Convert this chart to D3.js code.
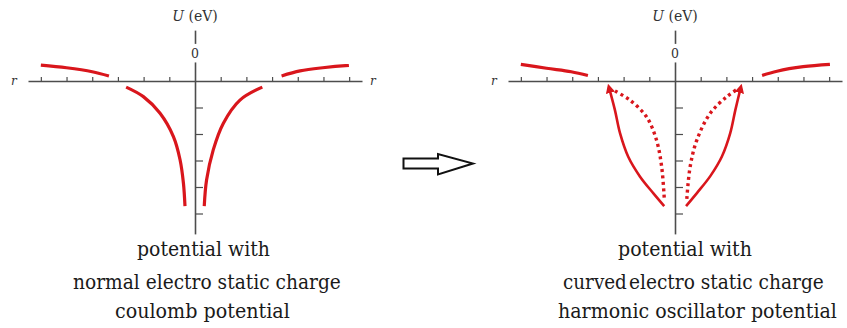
<!DOCTYPE html>
<html>
<head>
<meta charset="utf-8">
<script src="https://cdn.jsdelivr.net/npm/d3@7/dist/d3.min.js"></script>
<style>
  html, body { margin: 0; padding: 0; background: #fff; }
  svg { display: block; }
</style>
</head>
<body>
<svg id="chart" width="847" height="328"></svg>
<script>
// ---- data (r in tick units, U in eV tick units) ----
const xTicks = [-6, -5, -4, -3, -2, -1, 1, 2, 3, 4, 5, 6];
const yTicks = [-1, -2, -3, -4, -5];

// Coulomb panel
const coulombOuterLeftR  = [-6.0, -5.0, -4.0, -3.35];
const coulombOuterLeftU  = [0.60, 0.50, 0.35, 0.19];
const coulombOuterRightR = [3.37, 4.09, 4.97, 5.99];
const coulombOuterRightU = [0.19, 0.38, 0.50, 0.59];
const coulombInnerLeftR  = [-2.68, -2.01, -1.36, -0.84, -0.58, -0.45, -0.39];
const coulombInnerLeftU  = [-0.23, -0.59, -1.22, -2.10, -2.98, -3.86, -4.72];
const coulombInnerRightR = [0.36, 0.45, 0.71, 1.10, 1.75, 2.62];
const coulombInnerRightU = [-4.72, -3.74, -2.60, -1.60, -0.72, -0.23];

// Harmonic oscillator panel
const hoOuterLeftR  = [-6.0, -5.0, -4.04, -3.39];
const hoOuterLeftU  = [0.63, 0.48, 0.35, 0.21];
const hoOuterRightR = [3.39, 3.97, 4.99, 6.03];
const hoOuterRightU = [0.21, 0.37, 0.54, 0.63];
// solid branches run from the well bottom up to the arrow tip
const hoSolidLeftR  = [-0.42, -0.84, -1.36, -1.82, -2.14, -2.34, -2.57];
const hoSolidLeftU  = [-4.72, -4.24, -3.61, -2.86, -1.97, -1.09, -0.24];
const hoSolidRightR = [0.43, 0.86, 1.38, 1.83, 2.15, 2.35, 2.56];
const hoSolidRightU = [-4.72, -4.22, -3.58, -2.84, -1.97, -1.09, -0.24];
const hoDotLeftR  = [-0.42, -0.52, -0.72, -1.11, -1.76, -2.41];
const hoDotLeftU  = [-4.40, -3.23, -2.23, -1.35, -0.72, -0.34];
const hoDotRightR = [0.46, 0.59, 0.85, 1.37, 2.02, 2.47];
const hoDotRightU = [-4.45, -3.23, -2.23, -1.22, -0.59, -0.28];

const captionsLeft  = ["potential with", "normal electro static charge", "coulomb potential"];
const captionsRight = ["potential with", ["curved", "electro static charge"], "harmonic oscillator potential"];

// ---- drawing ----
const svg = d3.select("#chart");
const RED = "#d9161c";
const AXIS = "#4d4d4d";

svg.append("defs").append("marker")
  .attr("id", "tip")
  .attr("viewBox", "0 0 10 10")
  .attr("refX", 6).attr("refY", 5)
  .attr("markerWidth", 3.6).attr("markerHeight", 3.6)
  .attr("orient", "auto")
  .append("path")
  .attr("d", "M0,0 L10,5 L0,10 Z")
  .attr("fill", RED);

function zip(rs, us) { return rs.map((r, i) => [r, us[i]]); }

function panel(cx, opts) {
  const x = d3.scaleLinear().domain([-6.5, 6.5]).range([cx - 167, cx + 167]);
  const y = d3.scaleLinear().domain([0, -5]).range([81, 213.5]);
  const g = svg.append("g");

  // r axis with upward ticks
  const xAxis = d3.axisTop(x).tickValues(xTicks).tickSize(4).tickSizeOuter(0).tickFormat("");
  const xg = g.append("g").attr("transform", `translate(0,${y(0)})`).call(xAxis);
  xg.select(".domain").attr("stroke", AXIS).attr("stroke-width", 1.6);
  xg.selectAll(".tick line").attr("stroke", AXIS).attr("stroke-width", 1.2);

  // U axis with ticks to the right
  const yAxisScale = d3.scaleLinear().domain([1.92, -5.77]).range([y(1.92), y(-5.77)]);
  const yAxis = d3.axisRight(yAxisScale).tickValues(yTicks).tickSize(8).tickSizeOuter(0).tickFormat("");
  const yg = g.append("g").attr("transform", `translate(${x(0)},0)`).call(yAxis);
  yg.select(".domain").attr("stroke", AXIS).attr("stroke-width", 1.6);
  yg.selectAll(".tick line").attr("stroke", AXIS).attr("stroke-width", 1.2);

  // zero label sitting on the U axis
  g.append("rect").attr("x", x(0) - 5).attr("y", y(1.4)).attr("width", 10).attr("height", y(0.7) - y(1.4)).attr("fill", "#fff");
  g.append("text").attr("x", x(0)).attr("y", y(0.87))
    .attr("text-anchor", "middle")
    .attr("font-family", "DejaVu Serif, serif").attr("font-size", 12.5).attr("fill", "#333")
    .text("0");

  // axis titles
  const ut = g.append("text").attr("x", x(0)).attr("y", 21)
    .attr("text-anchor", "middle")
    .attr("font-family", "DejaVu Serif, serif").attr("font-size", 14).attr("fill", "#333");
  ut.append("tspan").attr("font-style", "italic").text("U");
  ut.append("tspan").text(" (eV)");
  g.append("text").attr("x", x(-7.05)).attr("y", y(0) + 4)
    .attr("text-anchor", "middle").attr("font-style", "italic")
    .attr("font-family", "DejaVu Serif, serif").attr("font-size", 12).attr("fill", "#333").text("r");
  if (opts.rightR) {
    g.append("text").attr("x", x(6.92)).attr("y", y(0) + 4)
      .attr("text-anchor", "middle").attr("font-style", "italic")
      .attr("font-family", "DejaVu Serif, serif").attr("font-size", 12).attr("fill", "#333").text("r");
  }

  const line = d3.line().x(d => x(d[0])).y(d => y(d[1])).curve(d3.curveCatmullRom.alpha(0.5));
  opts.solid.forEach(pts => {
    g.append("path").attr("d", line(pts)).attr("fill", "none")
      .attr("stroke", RED).attr("stroke-width", 3.2).attr("stroke-linecap", "butt");
  });
  (opts.arrowed || []).forEach(pts => {
    g.append("path").attr("d", line(pts)).attr("fill", "none")
      .attr("stroke", RED).attr("stroke-width", 2.6).attr("marker-end", "url(#tip)");
  });
  (opts.dotted || []).forEach(pts => {
    g.append("path").attr("d", line(pts)).attr("fill", "none")
      .attr("stroke", RED).attr("stroke-width", 3.4).attr("stroke-dasharray", "3,3.4");
  });
}

panel(195, {
  rightR: true,
  solid: [
    zip(coulombOuterLeftR, coulombOuterLeftU),
    zip(coulombOuterRightR, coulombOuterRightU),
    zip(coulombInnerLeftR, coulombInnerLeftU),
    zip(coulombInnerRightR, coulombInnerRightU)
  ]
});

panel(675, {
  rightR: false,
  solid: [
    zip(hoOuterLeftR, hoOuterLeftU),
    zip(hoOuterRightR, hoOuterRightU)
  ],
  arrowed: [
    zip(hoSolidLeftR, hoSolidLeftU),
    zip(hoSolidRightR, hoSolidRightU)
  ],
  dotted: [
    zip(hoDotLeftR, hoDotLeftU),
    zip(hoDotRightR, hoDotRightU)
  ]
});

// transition arrow between the panels
svg.append("path")
  .attr("d", "M403.5,158.5 L438,158.5 L438,154 L473,163.5 L438,174.5 L438,168.5 L403.5,168.5 Z")
  .attr("fill", "#fff").attr("stroke", "#111").attr("stroke-width", 2).attr("stroke-linejoin", "miter");

// captions: each run is squeezed horizontally to its span with a transform
const capFont = "DejaVu Serif, serif";
const capSize = 20;
const baselines = [256, 289, 318];
const leftSpans = [[137, 270], [73, 341], [115, 290]];
const rightSpans = [[618, 752], [563, 824], [558, 837]];

function fitText(str, x0, width, yb) {
  const t = svg.append("text").attr("x", 0).attr("y", 0)
    .attr("font-family", capFont).attr("font-size", capSize).attr("fill", "#1a1a1a")
    .text(str);
  const natural = t.node().getComputedTextLength();
  t.attr("transform", `translate(${x0},${yb}) scale(${width / natural},1)`);
}

function caption(texts, spans) {
  texts.forEach((t, i) => {
    const [a, b] = spans[i];
    if (Array.isArray(t)) {
      const w1 = (b - a) * 0.245;
      fitText(t[0], a, w1, baselines[i]);
      fitText(t[1], a + w1 + 2, (b - a) - w1 - 2, baselines[i]);
    } else {
      fitText(t, a, b - a, baselines[i]);
    }
  });
}
caption(captionsLeft, leftSpans);
caption(captionsRight, rightSpans);
</script>
</body>
</html>
